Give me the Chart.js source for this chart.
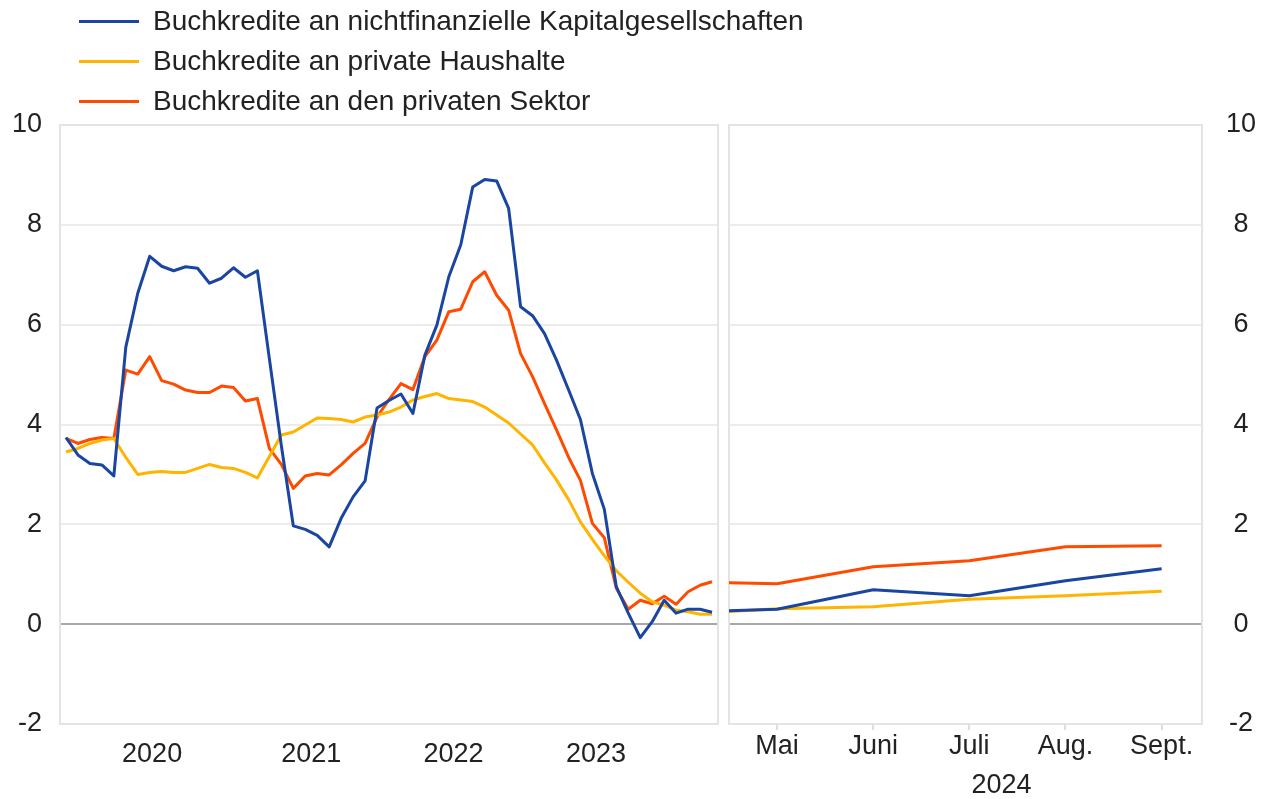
<!DOCTYPE html>
<html>
<head>
<meta charset="utf-8">
<script src="https://cdn.jsdelivr.net/npm/chart.js@4.4.1/dist/chart.umd.min.js"></script>
<style>
  body { margin: 0; background: #fff; }
  #wrap { position: relative; width: 1274px; height: 799px; font-family: "Liberation Sans", Arial, sans-serif; }
  #leftChart { position: absolute; left: 0; top: 0; }
  #rightChart { position: absolute; left: 722px; top: 0; }
  #legend { position: absolute; left: 79px; top: 1px; z-index: 2; }
  .item { height: 40px; display: flex; align-items: center; font-size: 28px; color: #222; white-space: nowrap; }
  .item i { display: inline-block; width: 60px; height: 3px; margin-right: 14px; }
</style>
</head>
<body>
<div id="wrap">
  <div id="legend"></div>
  <canvas id="leftChart" width="722" height="799"></canvas>
  <canvas id="rightChart" width="552" height="799"></canvas>
</div>
<script>
// Annual growth rates, monthly, Oct 2019 - Apr 2024
const nfcLoans = [3.74, 3.39, 3.22, 3.19, 2.97, 5.55, 6.63, 7.37, 7.17, 7.08,
  7.16, 7.13, 6.83, 6.93, 7.14, 6.95, 7.08, 5.32, 3.58, 1.97,
  1.9, 1.78, 1.55, 2.12, 2.55, 2.87, 4.33, 4.48, 4.61, 4.22,
  5.39, 5.99, 6.96, 7.6, 8.76, 8.91, 8.88, 8.33, 6.36, 6.18,
  5.82, 5.29, 4.7, 4.1, 3.02, 2.3, 0.75, 0.22, -0.27, 0.05,
  0.48, 0.22, 0.3, 0.3, 0.24];
const householdLoans = [3.45, 3.52, 3.62, 3.69, 3.72, 3.34, 3.0, 3.04, 3.06, 3.04,
  3.04, 3.12, 3.2, 3.14, 3.12, 3.04, 2.93, 3.36, 3.79, 3.85,
  3.99, 4.13, 4.12, 4.1, 4.05, 4.15, 4.19, 4.25, 4.35, 4.49,
  4.56, 4.62, 4.52, 4.49, 4.46, 4.35, 4.19, 4.03, 3.81, 3.59,
  3.23, 2.89, 2.5, 2.05, 1.7, 1.37, 1.07, 0.84, 0.62, 0.45,
  0.38, 0.28, 0.25, 0.2, 0.2];
const privateSectorLoans = [3.72, 3.62, 3.7, 3.74, 3.72, 5.09, 5.01, 5.36, 4.88, 4.81,
  4.69, 4.64, 4.64, 4.77, 4.74, 4.47, 4.52, 3.52, 3.2, 2.72,
  2.97, 3.02, 2.99, 3.19, 3.42, 3.62, 4.15, 4.5, 4.82, 4.7,
  5.36, 5.69, 6.26, 6.31, 6.86, 7.06, 6.59, 6.29, 5.42, 4.96,
  4.42, 3.89, 3.35, 2.88, 2.02, 1.73, 0.72, 0.3, 0.48, 0.41,
  0.56, 0.4, 0.65, 0.78, 0.85];
const yearLabels = ['2020', '2021', '2022', '2023'];
const yearTickPos = [7.2, 20.5, 32.4, 44.3];

// right panel: Apr - Sept 2024
const recentMonths = ['Apr.', 'Mai', 'Juni', 'Juli', 'Aug.', 'Sept.'];
const nfcRecent = [0.24, 0.3, 0.69, 0.57, 0.87, 1.11];
const householdRecent = [0.2, 0.31, 0.35, 0.5, 0.57, 0.66];
const privateRecent = [0.85, 0.81, 1.15, 1.27, 1.55, 1.57];
const recentYear = '2024';

const yTicks = [-2, 0, 2, 4, 6, 8, 10];
const seriesNames = [
  'Buchkredite an nichtfinanzielle Kapitalgesellschaften',
  'Buchkredite an private Haushalte',
  'Buchkredite an den privaten Sektor'
];
const seriesColors = ['#1a45a0', '#ffb400', '#ff4b00'];

Chart.defaults.font.family = '"Liberation Sans", Arial, sans-serif';
Chart.defaults.font.size = 27;
Chart.defaults.color = '#222';

// legend
const legendEl = document.getElementById('legend');
seriesNames.forEach((name, i) => {
  const row = document.createElement('div');
  row.className = 'item';
  row.innerHTML = '<i style="background:' + seriesColors[i] + '"></i>' + name;
  legendEl.appendChild(row);
});

const panelFrame = {
  id: 'panelFrame',
  beforeDatasetsDraw(chart) {
    const { ctx, chartArea: a } = chart;
    ctx.save();
    ctx.strokeStyle = '#e4e4e4';
    ctx.lineWidth = 2;
    ctx.strokeRect(a.left, a.top, a.right - a.left, a.bottom - a.top);
    ctx.restore();
  }
};

function toPoints(arr) {
  return arr.map((v, i) => ({ x: i, y: v }));
}

function makeDatasets(series) {
  return series.map((arr, i) => ({
    label: seriesNames[i],
    data: toPoints(arr),
    borderColor: seriesColors[i],
    borderWidth: 3,
    pointRadius: 0,
    tension: 0,
    borderJoinStyle: 'round'
  }));
}

function yAxis(position, padding, crossAlign, width) {
  return {
    position: position,
    min: -2,
    max: 10,
    afterBuildTicks: ax => { ax.ticks = yTicks.map(v => ({ value: v })); },
    afterFit: ax => { ax.width = width; },
    grid: {
      color: c => (c.tick && c.tick.value === 0) ? '#a8a8a8' : '#ececec',
      lineWidth: 2,
      drawTicks: false
    },
    border: { display: false },
    ticks: { padding: padding, crossAlign: crossAlign }
  };
}

// Left panel
new Chart(document.getElementById('leftChart'), {
  type: 'line',
  data: { datasets: makeDatasets([nfcLoans, householdLoans, privateSectorLoans]) },
  plugins: [panelFrame],
  options: {
    responsive: false,
    animation: false,
    layout: { padding: { top: 125, right: 4, left: 0, bottom: 0 } },
    plugins: { legend: { display: false }, tooltip: { enabled: false } },
    scales: {
      x: {
        type: 'linear',
        min: -0.5,
        max: 54.5,
        afterBuildTicks: ax => { ax.ticks = yearTickPos.map(v => ({ value: v })); },
        afterFit: ax => { ax.height = 75; },
        grid: { display: false },
        border: { display: false },
        ticks: {
          padding: 6,
          maxRotation: 0,
          autoSkip: false,
          callback: (v, i) => yearLabels[i]
        }
      },
      y: yAxis('left', 18, 'near', 60)
    }
  }
});

// Right panel
new Chart(document.getElementById('rightChart'), {
  type: 'line',
  data: { datasets: makeDatasets([nfcRecent, householdRecent, privateRecent]) },
  plugins: [panelFrame],
  options: {
    responsive: false,
    animation: false,
    layout: { padding: { top: 125, right: 0, left: 7, bottom: 0 } },
    plugins: {
      legend: { display: false },
      tooltip: { enabled: false },
      title: {
        display: true,
        text: recentYear,
        position: 'bottom',
        font: { size: 27, weight: 'normal' },
        color: '#222',
        padding: { top: 4, bottom: -3 }
      }
    },
    scales: {
      x: {
        type: 'linear',
        min: 0.5,
        max: 5.42,
        afterBuildTicks: ax => { ax.ticks = [1, 2, 3, 4, 5].map(v => ({ value: v })); },
        afterFit: ax => { ax.height = 41.6; },
        grid: { display: true, drawOnChartArea: false, drawTicks: true, tickLength: 6, color: '#dddddd', lineWidth: 2 },
        border: { display: false },
        ticks: {
          padding: 0,
          maxRotation: 0,
          autoSkip: false,
          callback: v => recentMonths[v]
        }
      },
      y: yAxis('right', 24, 'center', 72)
    }
  }
});
</script>
</body>
</html>
